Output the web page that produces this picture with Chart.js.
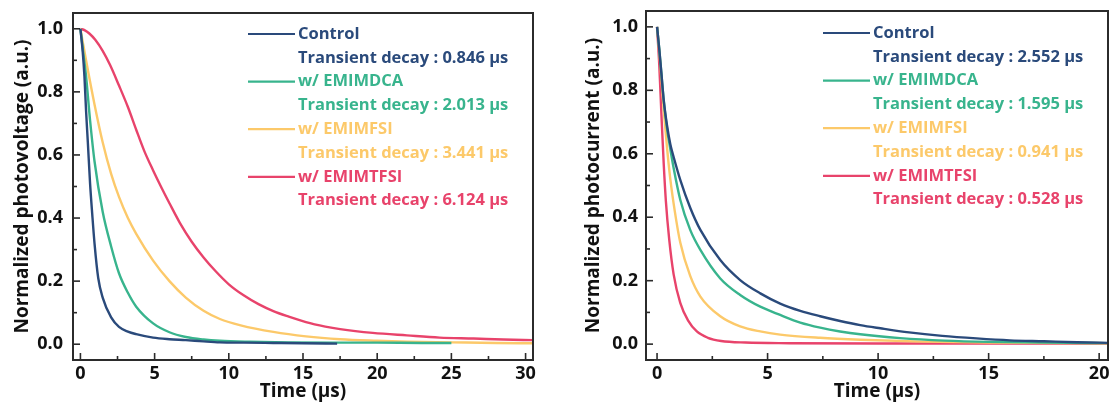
<!DOCTYPE html>
<html><head><meta charset="utf-8">
<script src="https://cdn.jsdelivr.net/npm/chart.js@4/dist/chart.umd.min.js"></script>
<style>
html,body{margin:0;padding:0;background:#fff;width:1115px;height:410px;overflow:hidden;}
.box{position:absolute;top:0;width:555px;height:410px;}
canvas{display:block;}
</style></head>
<body>
<div class="box" style="left:0"><canvas id="c1" width="555" height="410"></canvas></div>
<div class="box" style="left:560px"><canvas id="c2" width="555" height="410"></canvas></div>
<script>
// ---------- data ----------
const seriesLabels = ['Control', 'w/ EMIMDCA', 'w/ EMIMFSI', 'w/ EMIMTFSI'];
const seriesColors = ['#2a4a7b', '#38b48d', '#fcc96a', '#e8436b'];
const pvDecay = ['0.846', '2.013', '3.441', '6.124'];
const pcDecay = ['2.552', '1.595', '0.941', '0.528'];
const pvXTicks = [0, 5, 10, 15, 20, 25, 30];
const pcXTicks = [0, 5, 10, 15, 20];
const yTicks = [0, 0.2, 0.4, 0.6, 0.8, 1.0];

// Left: normalized photovoltage
const pvCtrlT = [0, 0.15, 0.27, 0.38, 0.5, 0.65, 0.8, 0.95, 1.2, 1.5, 2.07, 2.6, 3.2, 3.76, 4.9, 6, 7.1, 8.3, 9.4, 11, 13, 15, 17.3];
const pvCtrlV = [1.0, 0.93, 0.85, 0.74, 0.64, 0.51, 0.41, 0.32, 0.21, 0.148, 0.085, 0.055, 0.04, 0.032, 0.021, 0.016, 0.013, 0.009, 0.006, 0.005, 0.004, 0.003, 0.002];
const pvDcaT = [0, 0.2, 0.38, 0.65, 0.95, 1.5, 2.07, 2.6, 3.2, 3.76, 4.9, 6, 7.1, 8.3, 9.4, 11.4, 14, 17, 20, 23, 25];
const pvDcaV = [1.0, 0.92, 0.85, 0.71, 0.58, 0.42, 0.31, 0.225, 0.163, 0.119, 0.066, 0.038, 0.023, 0.015, 0.011, 0.008, 0.006, 0.005, 0.005, 0.004, 0.004];
const pvFsiT = [0, 0.38, 0.95, 1.5, 2.07, 2.6, 3.2, 3.76, 4.9, 6, 7.1, 8.3, 9.4, 10.8, 13, 15.2, 17.5, 20, 22, 25, 28, 30.5];
const pvFsiV = [1.0, 0.90, 0.76, 0.64, 0.54, 0.467, 0.40, 0.35, 0.265, 0.20, 0.148, 0.106, 0.08, 0.06, 0.039, 0.025, 0.016, 0.011, 0.008, 0.006, 0.004, 0.003];
const pvTfsiT = [0, 0.3, 0.6, 1.0, 1.5, 2.0, 2.6, 3.2, 3.76, 4.3, 4.9, 5.5, 6.0, 6.7, 7.5, 8.3, 9.1, 10, 11, 12, 13, 14, 15.2, 16.5, 17.5, 19.7, 22, 24.2, 26.5, 28.5, 30.5];
const pvTfsiV = [1.0, 0.995, 0.985, 0.965, 0.93, 0.885, 0.82, 0.752, 0.68, 0.613, 0.551, 0.493, 0.447, 0.385, 0.325, 0.275, 0.232, 0.19, 0.155, 0.127, 0.105, 0.088, 0.07, 0.056, 0.048, 0.036, 0.028, 0.021, 0.018, 0.015, 0.013];

// Right: normalized photocurrent
const pcCtrlT = [0, 0.1, 0.2, 0.3, 0.45, 0.6, 0.75, 1.05, 1.5, 1.96, 2.86, 3.76, 4.67, 5.57, 6.48, 7.38, 8.28, 9.19, 10.1, 11.4, 12.9, 14.45, 15.96, 17.5, 19, 20.5];
const pcCtrlV = [1.0, 0.93, 0.85, 0.77, 0.69, 0.63, 0.59, 0.518, 0.43, 0.36, 0.265, 0.202, 0.16, 0.128, 0.105, 0.088, 0.073, 0.06, 0.05, 0.037, 0.026, 0.018, 0.012, 0.009, 0.006, 0.004];
const pcDcaT = [0, 0.1, 0.2, 0.3, 0.45, 0.6, 0.75, 1.05, 1.5, 1.96, 2.86, 3.76, 4.67, 5.57, 6.48, 7.38, 8.28, 9.19, 11, 13, 15, 17.5, 20.5];
const pcDcaV = [1.0, 0.93, 0.85, 0.77, 0.68, 0.615, 0.555, 0.455, 0.36, 0.297, 0.207, 0.155, 0.118, 0.092, 0.068, 0.052, 0.04, 0.031, 0.019, 0.011, 0.007, 0.005, 0.003];
const pcFsiT = [0, 0.15, 0.3, 0.45, 0.6, 0.8, 1.05, 1.5, 1.96, 2.86, 3.76, 4.67, 5.57, 7.38, 9.2, 12, 15, 20.5];
const pcFsiV = [1.0, 0.88, 0.74, 0.62, 0.52, 0.42, 0.32, 0.215, 0.15, 0.088, 0.056, 0.04, 0.03, 0.02, 0.014, 0.008, 0.005, 0.003];
const pcTfsiT = [0, 0.1, 0.2, 0.3, 0.4, 0.55, 0.75, 1.05, 1.4, 1.8, 2.3, 2.9, 4, 6, 10, 20.5];
const pcTfsiV = [1.0, 0.88, 0.72, 0.57, 0.45, 0.33, 0.22, 0.13, 0.075, 0.04, 0.02, 0.01, 0.005, 0.003, 0.002, 0.002];

// ---------- helpers ----------
const FONT = '"Open Sans", "Liberation Sans", sans-serif';
const pts = (t, v) => t.map((x, i) => ({x: x, y: v[i]}));

function makeDatasets(pairs) {
  return pairs.map((p, i) => ({
    label: seriesLabels[i],
    data: pts(p[0], p[1]),
    borderColor: seriesColors[i],
    backgroundColor: seriesColors[i],
    borderWidth: 2.4,
    pointRadius: 0,
    cubicInterpolationMode: 'monotone',
    fill: false
  }));
}

const framePlugin = {
  id: 'frameTicks',
  afterDraw(chart, args, opts) {
    const ctx = chart.ctx, a = chart.chartArea;
    const xs = chart.scales.x, ys = chart.scales.y;
    ctx.save();
    ctx.strokeStyle = '#2b2b2b';
    ctx.lineWidth = 1.6;
    const xStep = opts.xMinor;
    for (let v = 0; v <= xs.max + 1e-9; v += xStep) {
      const px = xs.getPixelForValue(v);
      const major = Math.abs(v / opts.xMajor - Math.round(v / opts.xMajor)) < 1e-6;
      const len = major ? 7 : 4;
      ctx.beginPath(); ctx.moveTo(px, a.bottom); ctx.lineTo(px, a.bottom - len); ctx.stroke();
    }
    for (let k = 0; k <= 10; k++) {
      const v = k / 10;
      const py = ys.getPixelForValue(v);
      const len = (k % 2 === 0) ? 7 : 4;
      ctx.beginPath(); ctx.moveTo(a.left, py); ctx.lineTo(a.left + len, py); ctx.stroke();
    }
    ctx.lineWidth = 2;
    ctx.strokeRect(a.left, a.top, a.right - a.left, a.bottom - a.top);
    // legend
    ctx.font = 'bold 16.5px ' + FONT;
    ctx.textBaseline = 'middle';
    ctx.textAlign = 'left';
    const lx0 = a.left + opts.legX, lx1 = lx0 + 47, tx = lx1 + 3;
    chart.data.datasets.forEach((ds, i) => {
      const y1 = a.top + opts.legY + (2 * i) * 23.8;
      const y2 = y1 + 23.8;
      ctx.strokeStyle = ds.borderColor;
      ctx.lineWidth = 2.2;
      ctx.beginPath(); ctx.moveTo(lx0, y1); ctx.lineTo(lx1, y1); ctx.stroke();
      ctx.fillStyle = ds.borderColor;
      ctx.fillText(ds.label, tx, y1);
      ctx.fillText('Transient decay : ' + opts.decay[i] + ' \u03bcs', tx, y2);
    });
    ctx.restore();
  }
};

function makeChart(id, cfg) {
  return new Chart(document.getElementById(id), {
    type: 'line',
    data: {datasets: makeDatasets(cfg.pairs)},
    options: {
      responsive: false,
      animation: false,
      devicePixelRatio: 1,
      layout: {padding: {top: cfg.padTop, right: cfg.padRight, left: 0, bottom: 0}},
      plugins: {
        legend: {display: false},
        tooltip: {enabled: false},
        frameTicks: {xMinor: 2.5, xMajor: 5, legX: cfg.legX, legY: cfg.legY, decay: cfg.decay}
      },
      scales: {
        x: {
          type: 'linear', min: -0.5, max: cfg.xMax,
          afterBuildTicks: s => { s.ticks = cfg.xTicks.map(v => ({value: v})); },
          afterFit: s => { s.height = 50; s.paddingLeft = 0; s.paddingRight = 0; },
          grid: {display: false, drawTicks: false},
          border: {display: false},
          ticks: {autoSkip: false, maxRotation: 0, padding: 3, color: '#111', font: {family: FONT, size: 18, weight: 'bold'}},
          title: {display: true, text: 'Time (\u03bcs)', color: '#111', padding: {top: 0, bottom: 7},
                  font: {family: FONT, size: 19, weight: 'bold'}}
        },
        y: {
          type: 'linear', min: -0.05, max: 1.05,
          afterBuildTicks: s => { s.ticks = yTicks.map(v => ({value: v})); },
          afterFit: s => { s.width = cfg.yWidth; s.paddingTop = 0; s.paddingBottom = 0; },
          grid: {display: false, drawTicks: false},
          border: {display: false},
          ticks: {padding: cfg.yPad, color: '#111', font: {family: FONT, size: 18, weight: 'bold'},
                  callback: v => Number(v).toFixed(1)},
          title: {display: true, text: cfg.yTitle, color: '#111', padding: {top: cfg.yTitlePad, bottom: 0},
                  font: {family: FONT, size: 19, weight: 'bold'}}
        }
      }
    },
    plugins: [framePlugin]
  });
}

makeChart('c1', {
  pairs: [[pvCtrlT, pvCtrlV], [pvDcaT, pvDcaV], [pvFsiT, pvFsiV], [pvTfsiT, pvTfsiV]],
  xMax: 30.5, xTicks: pvXTicks, padTop: 13, padRight: 22, yWidth: 73, yPad: 10,
  yTitle: 'Normalized photovoltage (a.u.)', yTitlePad: 11, legX: 175, legY: 21, decay: pvDecay
});
makeChart('c2', {
  pairs: [[pcCtrlT, pcCtrlV], [pcDcaT, pcDcaV], [pcFsiT, pcFsiV], [pcTfsiT, pcTfsiV]],
  xMax: 20.4, xTicks: pcXTicks, padTop: 11, padRight: 7, yWidth: 86, yPad: 8,
  yTitle: 'Normalized photocurrent (a.u.)', yTitlePad: 22, legX: 177, legY: 22, decay: pcDecay
});
</script>
</body></html>
